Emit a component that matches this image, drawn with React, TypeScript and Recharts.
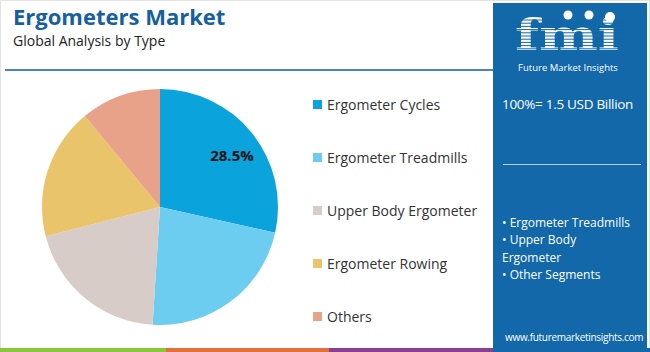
import { PieChart, Pie, Cell, Legend } from "recharts";

const segments = [
  "Ergometer Cycles",
  "Ergometer Treadmills",
  "Upper Body Ergometer",
  "Ergometer Rowing",
  "Others",
];
const shares = [28.5, 22.5, 20, 18, 11];
const colors = ["#0ba3db", "#6ccdf0", "#d7ccc8", "#e9c46a", "#e9a28a"];
const bulletLines = ["• Ergometer Treadmills", "• Upper Body", "Ergometer", "• Other Segments"];
const stripColors = ["#8cc63f", "#e2703a", "#8b3f91", "#1268a8"];

const data = segments.map((name, i) => ({ name, value: shares[i] }));

const FONT = "'Open Sans', 'Noto Sans', sans-serif";
const RAD = Math.PI / 180;

// only the biggest slice carries a label
const renderLabel = (props: any) => {
  const { cx, cy, midAngle, outerRadius, index, value } = props;
  if (index !== 0) return null;
  const r = outerRadius * 0.76;
  const x = cx + r * Math.cos(-midAngle * RAD) + 2;
  const y = cy + r * Math.sin(-midAngle * RAD) + 4;
  return (
    <text x={x} y={y} textAnchor="middle" dominantBaseline="central" fill="#111" fontSize={15} fontWeight={700} fontFamily={FONT}>
      {value}%
    </text>
  );
};

const renderLegend = () => (
  <div style={{ fontFamily: FONT }}>
    {segments.map((name, i) => (
      <div key={name} style={{ display: "flex", alignItems: "center", height: 53 }}>
        <span style={{ width: 9, height: 9, background: colors[i], marginRight: 5 }} />
        <span style={{ fontSize: 14, color: "#333" }}>{name}</span>
      </div>
    ))}
  </div>
);

export default function App() {
  return (
    <div style={{ position: "fixed", left: 0, top: 0, width: 650, height: 352, background: "#fff", overflow: "hidden", fontFamily: FONT }}>
      <div style={{ position: "absolute", left: 0, top: 0, width: 648, height: 350, border: "1px solid #e3e3e3" }} />
      <div style={{ position: "absolute", left: 13, top: 1, fontSize: 22, fontWeight: 700, color: "#16609e" }}>
        Ergometers Market
      </div>
      <div style={{ position: "absolute", left: 13, top: 31, fontSize: 14, color: "#222" }}>Global Analysis by Type</div>
      <div style={{ position: "absolute", left: 5, top: 69, width: 488, height: 2, background: "#4a86b8" }} />

      <PieChart width={493} height={346} style={{ position: "absolute", left: 0, top: 0 }}>
        <Pie
          data={data}
          dataKey="value"
          nameKey="name"
          cx={155}
          cy={202}
          outerRadius={118}
          startAngle={90}
          endAngle={-270}
          stroke="none"
          label={renderLabel}
          labelLine={false}
          isAnimationActive={false}
        >
          {data.map((d, i) => (
            <Cell key={d.name} fill={colors[i]} />
          ))}
        </Pie>
        <Legend
          layout="vertical"
          content={renderLegend}
          wrapperStyle={{ position: "absolute", left: 313, top: 78, width: 180 }}
        />
      </PieChart>

      {stripColors.map((c, i) => (
        <div key={c} style={{ position: "absolute", left: [0, 166, 329, 493][i], top: 348, width: [166, 163, 164, 157][i], height: 4, background: c }} />
      ))}

      <div style={{ position: "absolute", left: 493, top: 3, width: 154, height: 347, background: "#1268a8", color: "#fff" }}>
        <svg width={154} height={72} style={{ position: "absolute", left: 0, top: 0 }}>
          <text x={74} y={47} textAnchor="middle" fill="#fff" fontSize={42} fontWeight={700} fontFamily="'DejaVu Serif', serif" textLength={104} lengthAdjust="spacingAndGlyphs">
            fmi
          </text>
          {Array.from({ length: 10 }).map((_, i) => (
            <line key={i} x1={18} x2={135} y1={17 + i * 3.2} y2={17 + i * 3.2} stroke="#1268a8" strokeWidth={1} />
          ))}
          <circle cx={75} cy={12} r={4.5} fill="#fff" />
          <circle cx={96} cy={12} r={4.5} fill="#fff" />
          <circle cx={117} cy={14} r={5} fill="#fff" />
          <text x={75} y={67.5} textAnchor="middle" fill="#fff" fontSize={9.5} fontFamily={FONT}>
            Future Market Insights
          </text>
        </svg>
        <div style={{ position: "absolute", left: 9, top: 92, fontSize: 13.5, whiteSpace: "nowrap", letterSpacing: -0.3 }}>100%= 1.5 USD Billion</div>
        <div style={{ position: "absolute", left: 10, top: 161, width: 138, height: 1, background: "#b8d2e8" }} />
        <div style={{ position: "absolute", left: 9, top: 211, fontSize: 12, lineHeight: "17.3px" }}>
          {bulletLines.map((t) => (
            <div key={t}>{t}</div>
          ))}
        </div>
        <div style={{ position: "absolute", left: 12, top: 327, fontSize: 10, letterSpacing: -0.3 }}>www.futuremarketinsights.com</div>
      </div>
    </div>
  );
}
